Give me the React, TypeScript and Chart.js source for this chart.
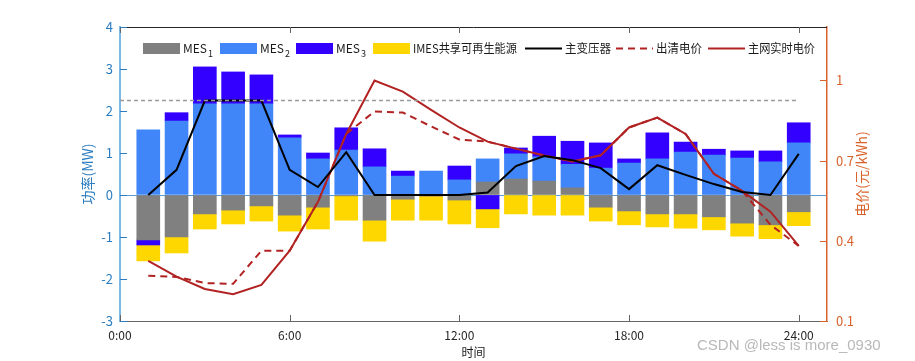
import React, { useEffect, useRef } from "react";
import { Chart, registerables } from "chart.js";
Chart.register(...registerables);

// ---------- data ----------
const hours = [1, 2, 3, 4, 5, 6, 7, 8, 9, 10, 11, 12, 13, 14, 15, 16, 17, 18, 19, 20, 21, 22, 23, 24];
const mes1 = [-1.07, -1.0, -0.45, -0.36, -0.26, -0.48, -0.29, -0.02, -0.6, -0.1, -0.02, -0.12, 0.31, 0.38, 0.33, 0.17, -0.29, -0.38, -0.45, -0.45, -0.52, -0.67, -0.71, -0.4];
const mes2 = [1.55, 1.76, 2.17, 2.17, 2.17, 1.36, 0.86, 1.07, 0.67, 0.45, 0.57, 0.36, 0.55, 0.6, 0.58, 0.56, 0.64, 0.76, 0.86, 1.02, 0.95, 0.88, 0.79, 1.24];
const mes3 = [-0.12, 0.2, 0.88, 0.76, 0.69, 0.07, 0.14, 0.53, 0.43, 0.12, 0, 0.33, -0.33, 0.14, 0.49, 0.55, 0.6, 0.1, 0.62, 0.24, 0.14, 0.17, 0.26, 0.48];
const imes = [-0.38, -0.38, -0.36, -0.33, -0.36, -0.38, -0.52, -0.58, -0.5, -0.5, -0.58, -0.57, -0.45, -0.45, -0.48, -0.48, -0.33, -0.33, -0.31, -0.34, -0.31, -0.31, -0.33, -0.33];
const transformer = [0, 0.6, 2.25, 2.25, 2.25, 0.6, 0.19, 1.02, 0, 0, 0, 0, 0.06, 0.69, 0.93, 0.83, 0.64, 0.14, 0.71, 0.48, 0.26, 0.07, 0, 0.98];
const clearingPrice = [0.269, 0.265, 0.242, 0.239, 0.363, 0.363, 0.546, 0.8, 0.884, 0.88, 0.828, 0.779, 0.771, 0.745, 0.719, 0.697, 0.72, 0.824, 0.861, 0.8, 0.651, 0.587, 0.46, 0.381];
const gridPrice = [0.325, 0.266, 0.22, 0.2, 0.235, 0.363, 0.546, 0.8, 1.0, 0.958, 0.89, 0.824, 0.771, 0.745, 0.719, 0.697, 0.72, 0.824, 0.861, 0.8, 0.651, 0.587, 0.509, 0.381];
const capHours = [0, 24];
const capValue = 2.25;

const xTickValues = [0, 6, 12, 18, 24];
const yTickValues = [-3, -2, -1, 0, 1, 2, 3, 4];
const priceTickValues = [0.1, 0.4, 0.7, 1];

const seriesLabels = ["MES", "MES", "MES", "IMES共享可再生能源", "主变压器", "出清电价", "主网实时电价"];
const seriesSubs = ["1", "2", "3", "", "", "", ""];
const xTitle = "时间";
const yTitle = "功率(MW)";
const y2Title = "电价(元/kWh)";
const watermark = "CSDN @less is more_0930";

// ---------- styles ----------
const FONT = "'Noto Sans CJK SC', 'Noto Sans', sans-serif";
const C_GRAY = "#808080";
const C_BLUE = "#4086F8";
const C_VIOLET = "#3300FF";
const C_YELLOW = "#FFD700";
const C_BLACK = "#000000";
const C_RED = "#B22222";
const C_LEFT = "#2A7DC0";
const C_LEFT_AXIS = "#7DB8E4";
const C_RIGHT = "#D9622B";

export default function App() {
  const ref = useRef<HTMLCanvasElement>(null);

  useEffect(() => {
    document.body.style.margin = "0";
    const pts = (arr: number[]) => hours.map((h, i) => ({ x: h, y: arr[i] }));

    const overlay = {
      id: "overlay",
      afterDraw(chart: any) {
        const ctx = chart.ctx as CanvasRenderingContext2D;
        const { left, right, top, bottom } = chart.chartArea;
        const xs = chart.scales.x;
        const ys = chart.scales.y;
        const y2s = chart.scales.y2;
        ctx.save();
        // top border
        ctx.strokeStyle = "#262626";
        ctx.lineWidth = 1;
        ctx.beginPath();
        ctx.moveTo(left, top + 0.5);
        ctx.lineTo(right, top + 0.5);
        ctx.stroke();
        // x ticks (inward, top and bottom)
        ctx.strokeStyle = "#666";
        xTickValues.forEach((v) => {
          const px = Math.round(xs.getPixelForValue(v)) + 0.5;
          ctx.beginPath();
          ctx.moveTo(px, bottom);
          ctx.lineTo(px, bottom - 6);
          ctx.moveTo(px, top);
          ctx.lineTo(px, top + 6);
          ctx.stroke();
        });
        // left ticks
        ctx.strokeStyle = C_LEFT;
        yTickValues.forEach((v) => {
          const py = Math.round(ys.getPixelForValue(v)) + 0.5;
          ctx.beginPath();
          ctx.moveTo(left, py);
          ctx.lineTo(left + 7, py);
          ctx.stroke();
        });
        // right ticks
        ctx.strokeStyle = C_RIGHT;
        priceTickValues.forEach((v) => {
          const py = Math.round(y2s.getPixelForValue(v)) + 0.5;
          ctx.beginPath();
          ctx.moveTo(right, py);
          ctx.lineTo(right - 7, py);
          ctx.stroke();
        });
        // titles
        const midY = (top + bottom) / 2;
        ctx.textAlign = "center";
        ctx.textBaseline = "middle";
        ctx.font = `14px ${FONT}`;
        ctx.fillStyle = C_LEFT;
        ctx.save();
        ctx.translate(88, midY);
        ctx.rotate(-Math.PI / 2);
        ctx.fillText(yTitle, 0, 0);
        ctx.restore();
        ctx.fillStyle = C_RIGHT;
        ctx.save();
        ctx.translate(862, midY);
        ctx.rotate(-Math.PI / 2);
        ctx.fillText(y2Title, 0, 0);
        ctx.restore();
        ctx.fillStyle = "#1a1a1a";
        ctx.font = `12px ${FONT}`;
        ctx.fillText(xTitle, (left + right) / 2, 352);
        // watermark
        ctx.font = `15px 'Liberation Sans', Arial, sans-serif`;
        ctx.fillStyle = "rgba(160,160,160,0.75)";
        ctx.textAlign = "left";
        ctx.fillText(watermark, 697, 346);
        // legend
        const legendX = [143, 220, 296, 373, 525, 616, 708];
        const textMax = [30, 30, 30, 104, 46, 46, 67];
        const ly = 48.5;
        const kinds = ["box", "box", "box", "box", "line", "dash", "line"];
        const cols = [C_GRAY, C_BLUE, C_VIOLET, C_YELLOW, C_BLACK, C_RED, C_RED];
        seriesLabels.forEach((lab, i) => {
          const sx = legendX[i];
          if (kinds[i] === "box") {
            ctx.fillStyle = cols[i];
            ctx.fillRect(sx, 43, 37, 11);
          } else {
            ctx.strokeStyle = cols[i];
            ctx.lineWidth = 2;
            ctx.setLineDash(kinds[i] === "dash" ? [7, 5] : []);
            ctx.beginPath();
            ctx.moveTo(sx, ly);
            ctx.lineTo(sx + 37, ly);
            ctx.stroke();
            ctx.setLineDash([]);
          }
          ctx.fillStyle = "#1a1a1a";
          ctx.font = `12px ${FONT}`;
          ctx.textAlign = "left";
          ctx.textBaseline = "middle";
          ctx.fillText(lab, sx + 40, ly, textMax[i]);
          if (seriesSubs[i]) {
            const w = Math.min(ctx.measureText(lab).width, textMax[i]);
            ctx.font = `9px ${FONT}`;
            ctx.fillText(seriesSubs[i], sx + 41 + w, ly + 5);
          }
        });
        ctx.restore();
      },
    };

    const barCommon = { order: 2, barThickness: 23, borderWidth: 0, yAxisID: "y" };
    const chart = new Chart(ref.current as HTMLCanvasElement, {
      type: "bar",
      data: {
        datasets: [
          { ...barCommon, label: "MES1", data: pts(mes1), backgroundColor: C_GRAY },
          { ...barCommon, label: "MES2", data: pts(mes2), backgroundColor: C_BLUE },
          { ...barCommon, label: "MES3", data: pts(mes3), backgroundColor: C_VIOLET },
          { ...barCommon, label: "IMES", data: pts(imes), backgroundColor: C_YELLOW },
          {
            type: "line", order: 1, label: "cap", stack: "cap", yAxisID: "y",
            data: capHours.map((h) => ({ x: h, y: capValue })),
            borderColor: "#9a9a9a", borderWidth: 1.5, borderDash: [4, 3], pointRadius: 0,
          },
          {
            type: "line", order: 1, label: "主变压器", stack: "tr", yAxisID: "y",
            data: pts(transformer), borderColor: C_BLACK, borderWidth: 2, pointRadius: 0, tension: 0,
          },
          {
            type: "line", order: 1, label: "出清电价", yAxisID: "y2",
            data: pts(clearingPrice), borderColor: C_RED, borderWidth: 2, borderDash: [7, 5], pointRadius: 0, tension: 0,
          },
          {
            type: "line", order: 1, label: "主网实时电价", yAxisID: "y2",
            data: pts(gridPrice), borderColor: C_RED, borderWidth: 2, pointRadius: 0, tension: 0,
          },
        ] as any,
      },
      options: {
        animation: false,
        responsive: false,
        devicePixelRatio: 1,
        layout: { padding: { top: 27, left: 0, right: 0, bottom: 0 } },
        plugins: { legend: { display: false }, tooltip: { enabled: false } },
        scales: {
          x: {
            type: "linear",
            min: 0,
            max: 25,
            offset: false,
            stacked: true,
            grid: { display: false, drawTicks: false, offset: false },
            border: { display: true, color: "#666", width: 1 },
            afterBuildTicks: (s: any) => { s.ticks = xTickValues.map((v) => ({ value: v })); },
            afterFit: (s: any) => { s.height = 40; },
            ticks: {
              padding: 7,
              color: "#262626",
              font: { family: FONT, size: 12 },
              callback: (v: any) => `${v}:00`,
              maxRotation: 0,
            },
          },
          y: {
            position: "left",
            min: -3,
            max: 4,
            stacked: true,
            afterBuildTicks: (s: any) => { s.ticks = yTickValues.map((v) => ({ value: v })); },
            afterFit: (s: any) => { s.width = 120; },
            grid: {
              drawTicks: false,
              color: (c: any) => (c.tick && c.tick.value === 0 ? "#5B9BD5" : "rgba(0,0,0,0)"),
              lineWidth: 1,
            },
            border: { display: true, color: C_LEFT_AXIS, width: 2 },
            ticks: { padding: 7, color: C_LEFT, font: { family: FONT, size: 13 } },
          },
          y2: {
            position: "right",
            min: 0.1,
            max: 1.2,
            afterBuildTicks: (s: any) => { s.ticks = priceTickValues.map((v) => ({ value: v })); },
            afterFit: (s: any) => { s.width = 88; },
            grid: { display: false, drawTicks: false },
            border: { display: true, color: C_RIGHT, width: 1.5 },
            ticks: {
              padding: 9,
              color: C_RIGHT,
              font: { family: FONT, size: 13 },
              callback: (v: any) => String(Number(Number(v).toFixed(1))),
            },
          },
        },
      } as any,
      plugins: [overlay],
    });
    return () => chart.destroy();
  }, []);

  return (
    <div style={{ width: 915, height: 361 }}>
      <canvas ref={ref} width={915} height={361} style={{ display: "block" }} />
    </div>
  );
}
